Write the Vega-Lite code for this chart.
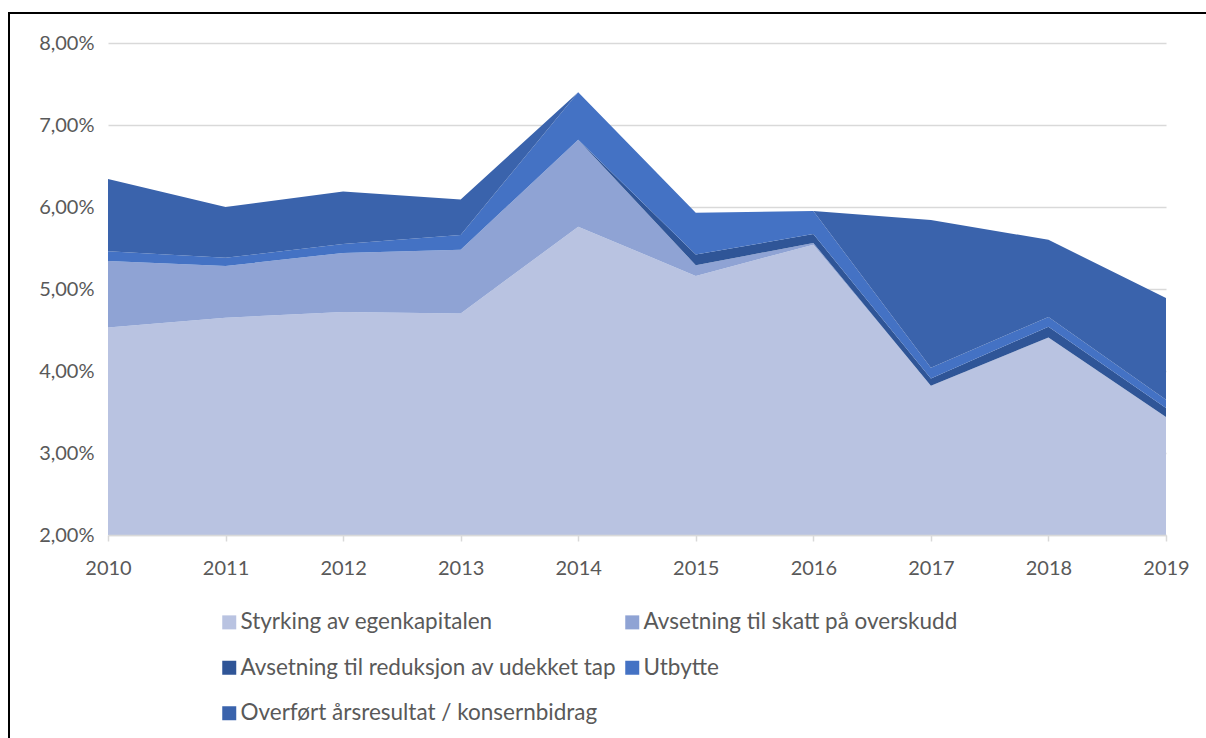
{
  "$schema": "https://vega.github.io/schema/vega-lite/v6.json",
  "autosize": "none",
  "padding": {"left": 9, "top": 13, "right": 0, "bottom": 0},
  "width": 1210,
  "height": 740,
  "background": "white",
  "view": {"stroke": "black", "strokeWidth": 2, "fill": "white"},
  "data": {
    "values": [
      {"year": 2010, "serie": "Styrking av egenkapitalen", "ord": 1, "value": 4.53},
      {"year": 2010, "serie": "Avsetning til skatt på overskudd", "ord": 2, "value": 0.81},
      {"year": 2010, "serie": "Avsetning til reduksjon av udekket tap", "ord": 3, "value": 0},
      {"year": 2010, "serie": "Utbytte", "ord": 4, "value": 0.12},
      {"year": 2010, "serie": "Overført årsresultat / konsernbidrag", "ord": 5, "value": 0.88},
      {"year": 2011, "serie": "Styrking av egenkapitalen", "ord": 1, "value": 4.65},
      {"year": 2011, "serie": "Avsetning til skatt på overskudd", "ord": 2, "value": 0.63},
      {"year": 2011, "serie": "Avsetning til reduksjon av udekket tap", "ord": 3, "value": 0},
      {"year": 2011, "serie": "Utbytte", "ord": 4, "value": 0.10},
      {"year": 2011, "serie": "Overført årsresultat / konsernbidrag", "ord": 5, "value": 0.62},
      {"year": 2012, "serie": "Styrking av egenkapitalen", "ord": 1, "value": 4.72},
      {"year": 2012, "serie": "Avsetning til skatt på overskudd", "ord": 2, "value": 0.72},
      {"year": 2012, "serie": "Avsetning til reduksjon av udekket tap", "ord": 3, "value": 0},
      {"year": 2012, "serie": "Utbytte", "ord": 4, "value": 0.11},
      {"year": 2012, "serie": "Overført årsresultat / konsernbidrag", "ord": 5, "value": 0.64},
      {"year": 2013, "serie": "Styrking av egenkapitalen", "ord": 1, "value": 4.70},
      {"year": 2013, "serie": "Avsetning til skatt på overskudd", "ord": 2, "value": 0.78},
      {"year": 2013, "serie": "Avsetning til reduksjon av udekket tap", "ord": 3, "value": 0},
      {"year": 2013, "serie": "Utbytte", "ord": 4, "value": 0.18},
      {"year": 2013, "serie": "Overført årsresultat / konsernbidrag", "ord": 5, "value": 0.43},
      {"year": 2014, "serie": "Styrking av egenkapitalen", "ord": 1, "value": 5.76},
      {"year": 2014, "serie": "Avsetning til skatt på overskudd", "ord": 2, "value": 1.06},
      {"year": 2014, "serie": "Avsetning til reduksjon av udekket tap", "ord": 3, "value": 0},
      {"year": 2014, "serie": "Utbytte", "ord": 4, "value": 0.58},
      {"year": 2014, "serie": "Overført årsresultat / konsernbidrag", "ord": 5, "value": 0},
      {"year": 2015, "serie": "Styrking av egenkapitalen", "ord": 1, "value": 5.16},
      {"year": 2015, "serie": "Avsetning til skatt på overskudd", "ord": 2, "value": 0.13},
      {"year": 2015, "serie": "Avsetning til reduksjon av udekket tap", "ord": 3, "value": 0.13},
      {"year": 2015, "serie": "Utbytte", "ord": 4, "value": 0.51},
      {"year": 2015, "serie": "Overført årsresultat / konsernbidrag", "ord": 5, "value": 0},
      {"year": 2016, "serie": "Styrking av egenkapitalen", "ord": 1, "value": 5.54},
      {"year": 2016, "serie": "Avsetning til skatt på overskudd", "ord": 2, "value": 0.02},
      {"year": 2016, "serie": "Avsetning til reduksjon av udekket tap", "ord": 3, "value": 0.11},
      {"year": 2016, "serie": "Utbytte", "ord": 4, "value": 0.28},
      {"year": 2016, "serie": "Overført årsresultat / konsernbidrag", "ord": 5, "value": 0},
      {"year": 2017, "serie": "Styrking av egenkapitalen", "ord": 1, "value": 3.82},
      {"year": 2017, "serie": "Avsetning til skatt på overskudd", "ord": 2, "value": 0},
      {"year": 2017, "serie": "Avsetning til reduksjon av udekket tap", "ord": 3, "value": 0.09},
      {"year": 2017, "serie": "Utbytte", "ord": 4, "value": 0.13},
      {"year": 2017, "serie": "Overført årsresultat / konsernbidrag", "ord": 5, "value": 1.80},
      {"year": 2018, "serie": "Styrking av egenkapitalen", "ord": 1, "value": 4.41},
      {"year": 2018, "serie": "Avsetning til skatt på overskudd", "ord": 2, "value": 0},
      {"year": 2018, "serie": "Avsetning til reduksjon av udekket tap", "ord": 3, "value": 0.13},
      {"year": 2018, "serie": "Utbytte", "ord": 4, "value": 0.12},
      {"year": 2018, "serie": "Overført årsresultat / konsernbidrag", "ord": 5, "value": 0.94},
      {"year": 2019, "serie": "Styrking av egenkapitalen", "ord": 1, "value": 3.44},
      {"year": 2019, "serie": "Avsetning til skatt på overskudd", "ord": 2, "value": 0},
      {"year": 2019, "serie": "Avsetning til reduksjon av udekket tap", "ord": 3, "value": 0.11},
      {"year": 2019, "serie": "Utbytte", "ord": 4, "value": 0.10},
      {"year": 2019, "serie": "Overført årsresultat / konsernbidrag", "ord": 5, "value": 1.24}
    ]
  },
  "mark": {"type": "area", "interpolate": "linear", "opacity": 1},
  "encoding": {
    "x": {
      "field": "year",
      "type": "quantitative",
      "scale": {"domain": [2010, 2019], "range": [99, 1157], "nice": false, "zero": false},
      "axis": {
        "title": null,
        "orient": "bottom",
        "offset": -218,
        "values": [2010, 2011, 2012, 2013, 2014, 2015, 2016, 2017, 2018, 2019],
        "format": "d",
        "grid": false,
        "domainColor": "#D9D9D9",
        "domainWidth": 1.5,
        "ticks": true,
        "tickColor": "#D9D9D9",
        "tickSize": 6,
        "tickWidth": 1.5,
        "labelPadding": 17,
        "labelFont": "Lato",
        "labelFontSize": 20,
        "labelColor": "#595959",
        "labelFlush": false,
        "labelOverlap": false,
        "zindex": 1
      }
    },
    "y": {
      "field": "value",
      "type": "quantitative",
      "stack": "zero",
      "scale": {"domain": [2, 8], "range": [522, 30], "nice": false, "zero": false, "clamp": true},
      "axis": {
        "title": null,
        "orient": "left",
        "offset": -99,
        "values": [2, 3, 4, 5, 6, 7, 8],
        "labelExpr": "replace(format(datum.value, '.2f'), '.', ',') + '%'",
        "domain": false,
        "ticks": false,
        "grid": true,
        "gridColor": "#D9D9D9",
        "gridWidth": 1.3,
        "labelPadding": 14,
        "labelFont": "Lato",
        "labelFontSize": 20,
        "labelColor": "#595959",
        "labelFlush": false,
        "labelOverlap": false
      }
    },
    "color": {
      "field": "serie",
      "type": "nominal",
      "scale": {
        "domain": [
          "Styrking av egenkapitalen",
          "Avsetning til reduksjon av udekket tap",
          "Overført årsresultat / konsernbidrag",
          "Avsetning til skatt på overskudd",
          "Utbytte"
        ],
        "range": ["#B9C3E1", "#2F5597", "#3A63AC", "#8FA3D4", "#4472C4"]
      },
      "legend": {
        "title": null,
        "orient": "none",
        "legendX": 209,
        "legendY": 598,
        "columns": 2,
        "columnPadding": 4,
        "rowPadding": 22.5,
        "symbolType": "square",
        "symbolSize": 196,
        "symbolStrokeWidth": 0,
        "symbolOffset": 0,
        "labelOffset": 0,
        "labelFont": "Lato",
        "labelFontSize": 22.5,
        "labelColor": "#595959",
        "labelLimit": 600
      }
    },
    "order": {"field": "ord", "type": "quantitative"}
  }
}
